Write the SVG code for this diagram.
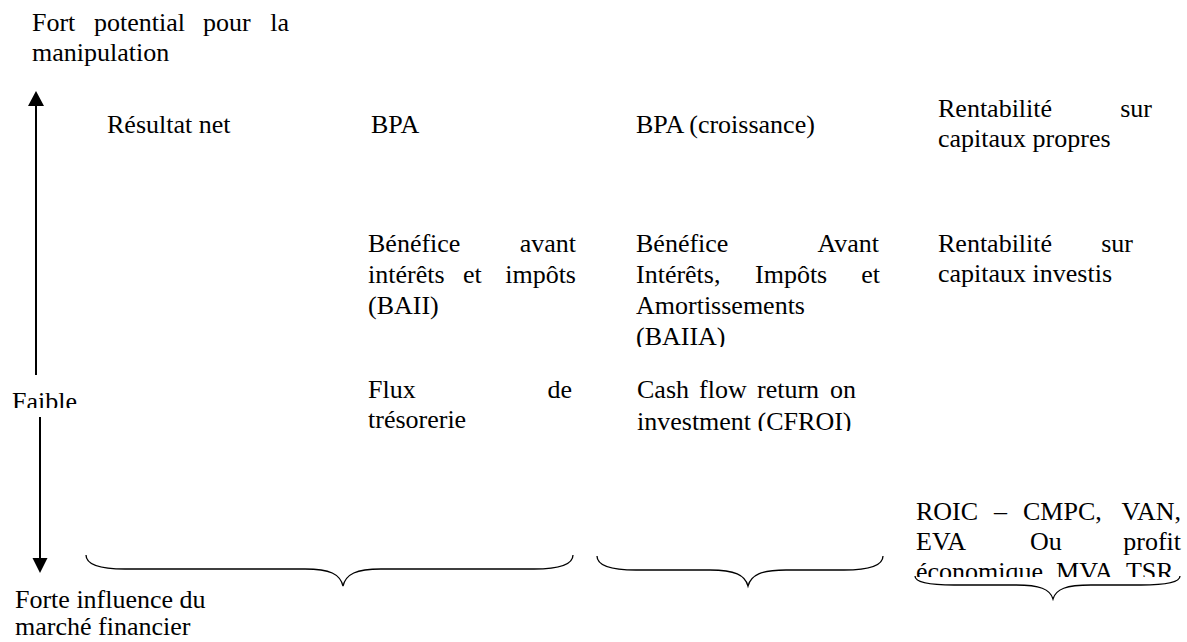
<svg xmlns="http://www.w3.org/2000/svg" width="1187" height="642" viewBox="0 0 1187 642">
<style>
text{font-family:"Liberation Serif","Times New Roman","DejaVu Serif",serif;font-size:26px;fill:#000}
.e{text-anchor:end}
.ax{stroke:#000;stroke-width:2;fill:none}
.br{stroke:#000;stroke-width:1.3;fill:none}
</style>
<defs>
<clipPath id="cFaible"><rect x="0" y="380" width="120" height="28"/></clipPath>
<clipPath id="cBaiia"><rect x="620" y="320" width="260" height="27"/></clipPath>
<clipPath id="cCfroi"><rect x="620" y="405" width="260" height="26"/></clipPath>
<clipPath id="cEco"><rect x="900" y="555" width="287" height="22"/></clipPath>
</defs>
<rect width="1187" height="642" fill="#fff"/>

<g id="axis-top">
<text x="32" y="31">Fort</text><text x="94" y="31">potential</text><text x="203" y="31">pour</text><text class="e" x="289" y="31">la</text>
<text x="32" y="61">manipulation</text>
</g>
<g id="axis-faible"><text x="12" y="410" clip-path="url(#cFaible)">Faible</text></g>
<g id="axis-bottom">
<text x="15" y="608">Forte influence du</text>
<text x="15" y="635">marché financier</text>
</g>

<g id="n-resultat"><text x="107" y="133">Résultat net</text></g>
<g id="n-bpa"><text x="371" y="133">BPA</text></g>
<g id="n-bpa-croissance"><text x="636" y="133">BPA (croissance)</text></g>
<g id="n-rcp">
<text x="938" y="117">Rentabilité</text><text class="e" x="1152" y="117">sur</text>
<text x="938" y="147">capitaux propres</text>
</g>
<g id="n-baii">
<text x="368" y="252">Bénéfice</text><text class="e" x="576" y="252">avant</text>
<text x="368" y="283">intérêts</text><text x="463" y="283">et</text><text class="e" x="576" y="283">impôts</text>
<text x="368" y="314">(BAII)</text>
</g>
<g id="n-baiia">
<text x="636" y="252">Bénéfice</text><text class="e" x="879" y="252">Avant</text>
<text x="636" y="283">Intérêts,</text><text x="755" y="283">Impôts</text><text class="e" x="880" y="283">et</text>
<text x="636" y="314">Amortissements</text>
<text x="636" y="345" clip-path="url(#cBaiia)">(BAIIA)</text>
</g>
<g id="n-rci">
<text x="938" y="252">Rentabilité</text><text class="e" x="1133" y="252">sur</text>
<text x="938" y="282">capitaux investis</text>
</g>
<g id="n-flux">
<text x="368" y="398">Flux</text><text class="e" x="572" y="398">de</text>
<text x="368" y="428">trésorerie</text>
</g>
<g id="n-cfroi">
<text x="637" y="398">Cash</text><text x="699" y="398">flow</text><text x="757" y="398">return</text><text class="e" x="856" y="398">on</text>
<text x="637" y="430" clip-path="url(#cCfroi)">investment (CFROI)</text>
</g>
<g id="n-roic">
<text x="916" y="520">ROIC</text><text x="994" y="520">–</text><text x="1023" y="520">CMPC,</text><text class="e" x="1181" y="520">VAN,</text>
<text x="916" y="550">EVA</text><text x="1030" y="550">Ou</text><text class="e" x="1181" y="550">profit</text>
<text x="916" y="580" clip-path="url(#cEco)">économique, MVA, TSR</text>
</g>

<g id="connectors">
<line class="ax" x1="36" y1="104" x2="36" y2="375"/>
<polygon points="36,91 28,106 44,106" fill="#000"/>
<line class="ax" x1="40" y1="417" x2="40" y2="560"/>
<polygon points="40,573 32.5,558 47.5,558" fill="#000"/>
<path class="br" d="M86,555 C86,564 98,569 125,569 L305,569 C330,569 340,574 343,586 C346,574 356,569 381,569 L534,569 C561,569 573,564 573,555"/>
<path class="br" d="M597,556 C597,565 609,570 636,570 L710,570 C735,570 745,575 748,586 C751,575 761,570 786,570 L844,570 C871,570 883,565 883,556"/>
<path class="br" d="M915,576 C915,582 927,585 954,585 L1015,585 C1040,585 1050,589 1053,599 C1056,589 1066,585 1091,585 L1141,585 C1168,585 1180,582 1180,576"/>
</g>
</svg>
